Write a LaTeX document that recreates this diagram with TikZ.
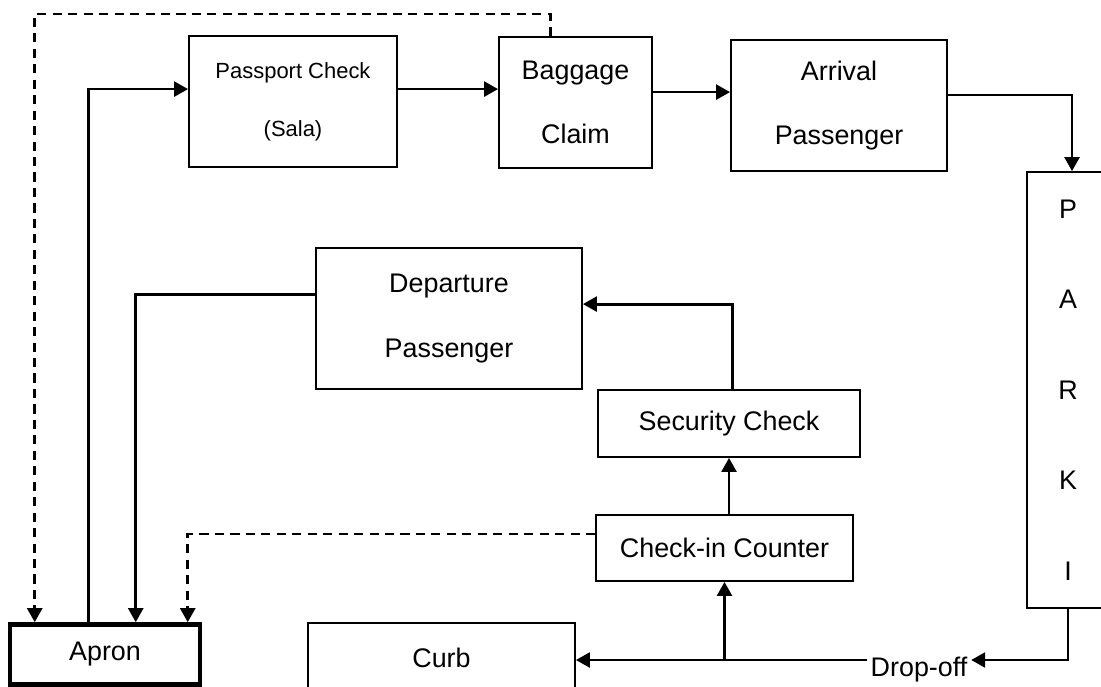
\documentclass[tikz,border=0pt]{standalone}
\usepackage{fontspec}
\setmainfont{Liberation Sans}
\usetikzlibrary{arrows.meta,calc}

\begin{document}
\begin{tikzpicture}[x=0.02cm,y=-0.02cm,
  box/.style={draw,line width=1.05pt,inner sep=0pt,align=center,font=\fontsize{15.3}{36.5}\selectfont},
  arr/.style={line width=1.6pt,-{Triangle[length=8pt,width=8.5pt]}},
  darr/.style={arr,dash pattern=on 5.2pt off 3.6pt}]
\useasboundingbox (0,0) rectangle (1101,686);
\node[box,minimum width=4.16cm,minimum height=2.62cm,font=\fontsize{12.5}{33}\selectfont] at(293,101.5)(passport){Passport Check\\(Sala)};
\node[box,minimum width=3.06cm,minimum height=2.62cm] at(575.5,102.5)(baggage){Baggage\\Claim};
\node[box,minimum width=4.32cm,minimum height=2.62cm] at(839,105.5)(arrival){Arrival\\Passenger};
\node[box,minimum width=1.64cm,minimum height=8.72cm,font=\fontsize{15.3}{51.5}\selectfont] at(1068,390)(parking){P\\A\\R\\K\\I};
\node[box,minimum width=5.32cm,minimum height=2.82cm] at(449,318.5)(departure){Departure\\Passenger};
\node[box,minimum width=5.24cm,minimum height=1.34cm] at(729,423.5)(security){Security Check};
\node[box,minimum width=5.14cm,minimum height=1.32cm] at(724.5,548)(checkin){Check-in Counter};
\node[box,line width=2.6pt,minimum width=3.8cm,minimum height=1.2cm] at(105,654.5)(apron){Apron};
\node[box,minimum width=5.34cm,minimum height=1.4cm] at(441.5,658)(curb){Curb};
\node[inner sep=2pt,font=\fontsize{15.3}{18}\selectfont] at(919,670)(dropoff){Drop-off};
\coordinate (drop) at ($(dropoff.west)+(0,-10)$);
\draw[darr] ($(baggage.north west)+(52,0)$) -- ++(0,-22) -| ($(apron.north west)+(27,0)$);
\draw[arr] ($(apron.north west)+(81,0)$) |- ($(passport.north west)+(0,54)$);
\draw[arr] ($(passport.north east)+(0,54)$) -- ($(baggage.north west)+(0,53)$);
\draw[arr] ($(baggage.north east)+(0,56)$) -- ($(arrival.north west)+(0,53)$);
\draw[arr] ($(arrival.north east)+(0,56)$) -| ($(parking.north)+(4,0)$);
\draw[arr] ($(departure.north west)+(0,47)$) -| ($(apron.north west)+(128,0)$);
\draw[arr] ($(security.north west)+(135,0)$) |- ($(departure.north east)+(0,57)$);
\draw[arr] (security.south |- checkin.north) -- (security.south);
\draw[darr] ($(checkin.north west)+(0,20)$) -| ($(apron.north west)+(180,0)$);
\draw[arr] (parking.south) |- ($(dropoff.east)+(0,-10)$);
\draw[arr] (drop) -- (drop -| curb.east);
\draw[arr] (drop -| checkin.south) -- (checkin.south);
\end{tikzpicture}
\end{document}
